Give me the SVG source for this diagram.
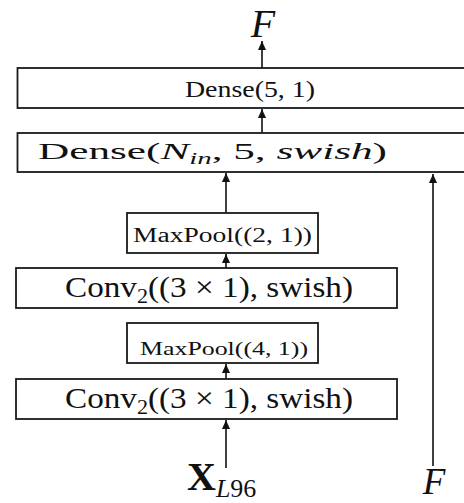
<svg xmlns="http://www.w3.org/2000/svg" width="464" height="503" viewBox="0 0 464 503">
<style>
.box{fill:#fff;stroke:#1a1a1a;stroke-width:1.8}
.t{font-family:"Liberation Serif","DejaVu Serif",serif;fill:#111;text-anchor:middle}
.c{stroke:#111;stroke-width:1.6;fill:none}
</style>
<defs>
<marker id="ah" markerUnits="userSpaceOnUse" markerWidth="10" markerHeight="10" refX="9" refY="4" orient="auto">
<path d="M0,0 L9,4 L0,8 z" fill="#111"/>
</marker>
</defs>
<rect width="464" height="503" fill="#fff"/>
<g id="connectors">
<line class="c" x1="262" y1="68" x2="262" y2="41" marker-end="url(#ah)"/>
<line class="c" x1="262" y1="133" x2="262" y2="109" marker-end="url(#ah)"/>
<line class="c" x1="226" y1="213" x2="226" y2="173" marker-end="url(#ah)"/>
<line class="c" x1="226" y1="268" x2="226" y2="254" marker-end="url(#ah)"/>
<line class="c" x1="226" y1="379" x2="226" y2="364" marker-end="url(#ah)"/>
<line class="c" x1="226" y1="468" x2="226" y2="420" marker-end="url(#ah)"/>
<line class="c" x1="433" y1="466" x2="433" y2="174" marker-end="url(#ah)"/>
</g>
<g id="out-F">
<text class="t" x="263" y="37" font-size="40" font-style="italic">F</text>
</g>
<g id="dense2">
<rect class="box" x="17.5" y="68" width="460" height="40"/>
<text class="t" x="250" y="97" font-size="24" textLength="130" lengthAdjust="spacingAndGlyphs">Dense(5, 1)</text>
</g>
<g id="dense1">
<rect class="box" x="17.5" y="133" width="460" height="39"/>
<text class="t" x="212.5" y="159" font-size="24" textLength="349" lengthAdjust="spacingAndGlyphs">Dense(<tspan font-style="italic">N</tspan><tspan font-style="italic" font-size="16" dy="5">in</tspan><tspan dy="-5">, 5, </tspan><tspan font-style="italic">swish</tspan>)</text>
</g>
<g id="maxpool2">
<rect class="box" x="127" y="213" width="191" height="40"/>
<text class="t" x="222.5" y="242" font-size="20" textLength="179" lengthAdjust="spacingAndGlyphs">MaxPool((2, 1))</text>
</g>
<g id="conv2-top">
<rect class="box" x="16" y="268" width="381" height="40"/>
<text class="t" x="209" y="297" font-size="30" textLength="288" lengthAdjust="spacingAndGlyphs">Conv<tspan font-size="20" dy="6">2</tspan><tspan dy="-6">((3 × 1), swish)</tspan></text>
</g>
<g id="maxpool4">
<rect class="box" x="127" y="323" width="191" height="40"/>
<text class="t" x="224" y="355" font-size="18" textLength="168" lengthAdjust="spacingAndGlyphs">MaxPool((4, 1))</text>
</g>
<g id="conv2-bottom">
<rect class="box" x="16" y="379" width="381" height="40"/>
<text class="t" x="209" y="408" font-size="30" textLength="288" lengthAdjust="spacingAndGlyphs">Conv<tspan font-size="20" dy="6">2</tspan><tspan dy="-6">((3 × 1), swish)</tspan></text>
</g>
<g id="input-X">
<text font-family="Liberation Serif, DejaVu Serif, serif" fill="#111" x="187" y="490" font-size="40" font-weight="bold">X<tspan font-size="26" font-weight="normal" font-style="italic" dy="7">L</tspan><tspan font-size="26" font-weight="normal" font-style="normal">96</tspan></text>
</g>
<g id="input-F">
<text class="t" x="434" y="494" font-size="37" font-style="italic">F</text>
</g>
</svg>
